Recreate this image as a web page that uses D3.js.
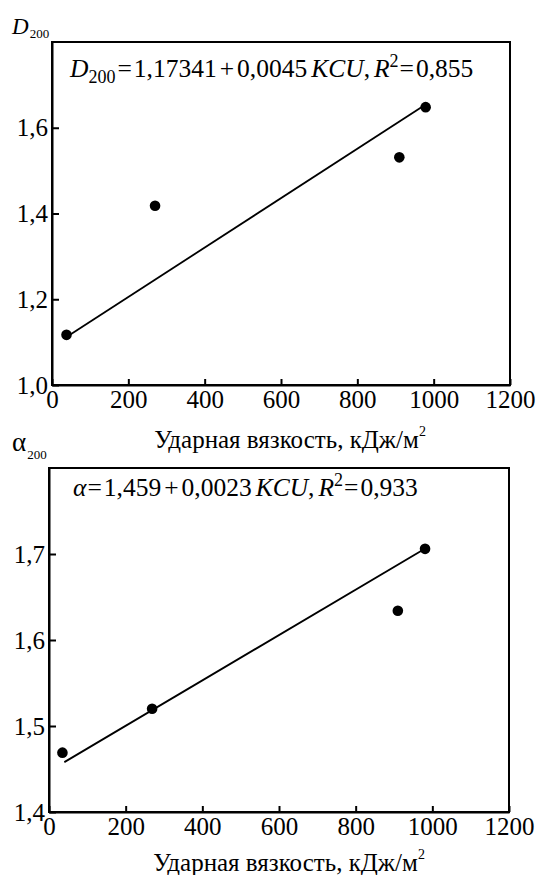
<!DOCTYPE html>
<html>
<head>
<meta charset="utf-8">
<script src="https://cdn.jsdelivr.net/npm/d3@7"></script>
<style>
  body { margin: 0; background: #fff; }
</style>
</head>
<body>
<div id="chart"></div>
<script>
// values
const xTicks = [0, 200, 400, 600, 800, 1000, 1200]

const kcuD = [38, 270, 910, 979]
const d200 = [1.117, 1.418, 1.531, 1.648]
const fitDx = [40, 975]
const fitDy = [1.113, 1.652]
const yTicksD = [1.0, 1.2, 1.4, 1.6]

const kcuA = [35, 269, 910, 981]
const alpha200 = [1.469, 1.52, 1.634, 1.706]
const fitAx = [40, 976]
const fitAy = [1.458, 1.705]
const yTicksA = [1.4, 1.5, 1.6, 1.7]

const xTitle = 'Ударная вязкость, кДж/м'

// equation pieces: text, style (i = italic, sub, sup), gap before
const eqD = [
  ['D', 'i', 0], ['200', 'sub', 0], ['=', '', 2], ['1,17341', '', 2], ['+', '', 3],
  ['0,0045', '', 3], ['KCU', 'i', 4], [',', '', 0], ['R', 'i', 4], ['2', 'sup', 0],
  ['=', '', 1], ['0,855', '', 2]
]
const eqA = [
  ['α', 'i', 0], ['=', '', 1], ['1,459', '', 2], ['+', '', 3],
  ['0,0023', '', 3], ['KCU', 'i', 4], [',', '', 0], ['R', 'i', 4], ['2', 'sup', 0],
  ['=', '', 1], ['0,933', '', 2]
]

const serif = 'Liberation Serif, DejaVu Serif, serif'

const svg = d3
  .select('#chart')
  .append('svg')
  .attr('width', 538)
  .attr('height', 875)
  .attr('font-family', serif)

const comma = d => d3.format('.1f')(d).replace('.', ',')

function panel(opt) {
  const x = d3.scaleLinear().domain([0, 1200]).range([opt.left, opt.right])
  const y = d3.scaleLinear().domain(opt.yDomain).range([opt.bottom, opt.top])

  const g = svg.append('g')

  // frame
  g.append('rect')
    .attr('x', opt.left)
    .attr('y', opt.top)
    .attr('width', opt.right - opt.left)
    .attr('height', opt.bottom - opt.top)
    .attr('fill', 'none')
    .attr('stroke', '#000')
    .attr('stroke-width', 2)

  const xAxis = d3.axisBottom(x)
    .tickValues(xTicks)
    .tickSizeInner(-6)
    .tickSizeOuter(0)
    .tickPadding(5)
    .tickFormat(d3.format('d'))

  const yAxis = d3.axisLeft(y)
    .tickValues(opt.yTicks)
    .tickSizeInner(-7)
    .tickSizeOuter(0)
    .tickPadding(4)
    .tickFormat(comma)

  g.append('g')
    .attr('transform', 'translate(0,' + opt.bottom + ')')
    .call(xAxis)
    .attr('font-family', serif)
    .attr('font-size', 25)
    .call(a => a.select('.domain').attr('stroke-width', 2))
    .call(a => a.selectAll('line').attr('stroke-width', 2))

  g.append('g')
    .attr('transform', 'translate(' + opt.left + ',0)')
    .call(yAxis)
    .attr('font-family', serif)
    .attr('font-size', 25)
    .call(a => a.select('.domain').attr('stroke-width', 2))
    .call(a => a.selectAll('line').attr('stroke-width', 2))

  // regression line
  const line = d3.line().x(d => x(d[0])).y(d => y(d[1]))
  g.append('path')
    .datum(d3.zip(opt.fitX, opt.fitY))
    .attr('d', line)
    .attr('fill', 'none')
    .attr('stroke', '#000')
    .attr('stroke-width', 1.8)

  g.selectAll('circle')
    .data(d3.zip(opt.xs, opt.ys))
    .join('circle')
    .attr('cx', d => x(d[0]))
    .attr('cy', d => y(d[1]))
    .attr('r', 5.3)
    .attr('fill', '#000')

  // axis title
  const t = g.append('text')
    .attr('x', opt.titleX)
    .attr('y', opt.titleY)
    .attr('text-anchor', 'middle')
    .attr('font-size', 25)
  t.append('tspan').text(xTitle)
  t.append('tspan').attr('dy', -12).attr('font-size', 14).text('2')

  // y label
  const yl = g.append('text')
    .attr('x', 12)
    .attr('y', opt.labelY)
    .attr('font-size', opt.labelSize)
  yl.append('tspan').attr('font-style', opt.labelItalic ? 'italic' : 'normal').text(opt.labelMain)
  yl.append('tspan').attr('dx', 1).attr('dy', opt.labelSub).attr('font-size', 13).text('200')

  // equation
  const eq = g.append('text')
    .attr('x', opt.eqX)
    .attr('y', opt.eqY)
    .attr('font-size', 25.5)
  let shift = 0
  opt.eq.forEach(([txt, st, gap]) => {
    const want = st === 'sub' ? 6 : st === 'sup' ? -10 : 0
    const s = eq.append('tspan')
      .attr('dx', gap)
      .attr('dy', want - shift)
      .text(txt)
    shift = want
    if (st === 'i') s.attr('font-style', 'italic')
    if (st === 'sub' || st === 'sup') s.attr('font-size', 18)
  })
}

panel({
  left: 52, right: 510, top: 42, bottom: 385,
  yDomain: [1.0, 1.8], yTicks: yTicksD,
  xs: kcuD, ys: d200, fitX: fitDx, fitY: fitDy,
  titleX: 290, titleY: 448,
  labelMain: 'D', labelItalic: true, labelY: 34, labelSub: 4, labelSize: 23,
  eqX: 70, eqY: 77, eq: eqD
})

panel({
  left: 49, right: 509, top: 468, bottom: 812,
  yDomain: [1.4, 1.8], yTicks: yTicksA,
  xs: kcuA, ys: alpha200, fitX: fitAx, fitY: fitAy,
  titleX: 289, titleY: 871,
  labelMain: 'α', labelItalic: false, labelY: 451, labelSub: 8, labelSize: 27,
  eqX: 73, eqY: 496, eq: eqA
})
</script>
</body>
</html>
